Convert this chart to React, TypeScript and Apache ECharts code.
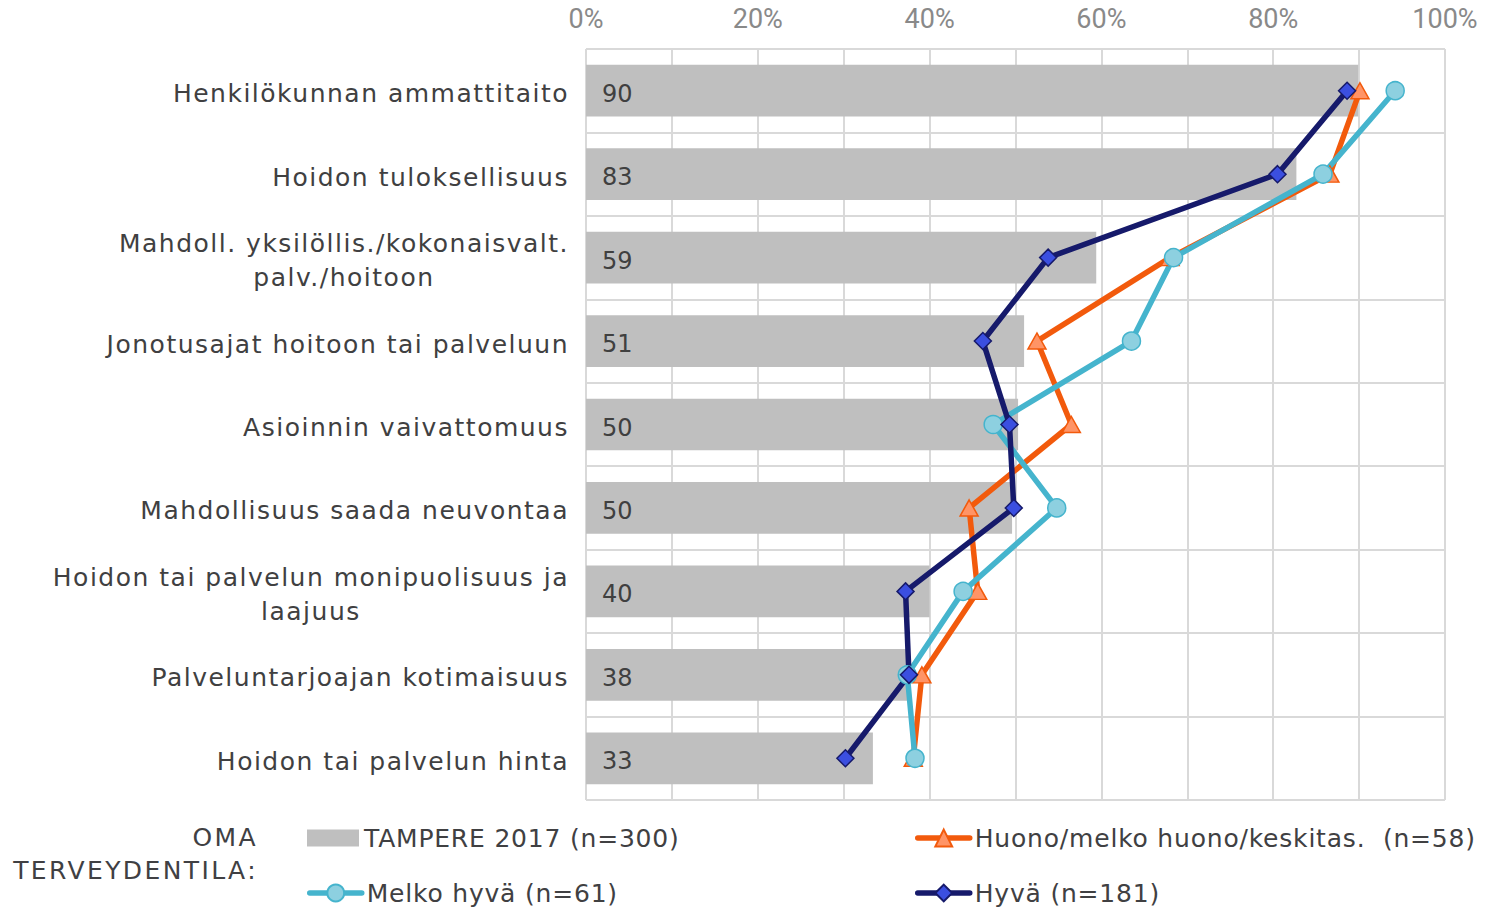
import React, { useEffect, useRef } from 'react';
import * as echarts from 'echarts';

const categories = [
  'Henkilökunnan ammattitaito',
  'Hoidon tuloksellisuus',
  'Mahdoll. yksilöllis./kokonaisvalt.\npalv./hoitoon',
  'Jonotusajat hoitoon tai palveluun',
  'Asioinnin vaivattomuus',
  'Mahdollisuus saada neuvontaa',
  'Hoidon tai palvelun monipuolisuus ja\nlaajuus',
  'Palveluntarjoajan kotimaisuus',
  'Hoidon tai palvelun hinta',
];

const seriesNames = [
  'TAMPERE 2017 (n=300)',
  'Huono/melko huono/keskitas.  (n=58)',
  'Melko hyvä (n=61)',
  'Hyvä (n=181)',
];

const tampere = [89.9, 82.7, 59.4, 51.0, 50.3, 49.6, 40.0, 37.6, 33.4];
const huono = [90.1, 86.6, 68.0, 52.5, 56.5, 44.6, 45.6, 39.1, 38.1];
const melkoHyva = [94.2, 85.8, 68.4, 63.5, 47.4, 54.8, 43.9, 37.4, 38.3];
const hyva = [88.6, 80.5, 53.8, 46.2, 49.3, 49.8, 37.2, 37.6, 30.2];

const xLabelValues = [0, 20, 40, 60, 80, 100];
const legendTitle = 'OMA\nTERVEYDENTILA:';

const CAT_FONT = 25;
const CAT_LS = 1.5;
const FONT = '"DejaVu Sans", Verdana, sans-serif';
const LINE_W = 5.5;

function measureSpaced(text: string, size: number, ls: number): number {
  const ctx = document.createElement('canvas').getContext('2d');
  if (!ctx) return text.length * size * 0.6;
  ctx.font = `${size}px "DejaVu Sans"`;
  return ctx.measureText(text).width + ls * text.length;
}

export default function App() {
  const ref = useRef<HTMLDivElement>(null);

  useEffect(() => {
    if (!ref.current) return;
    const chart = echarts.init(ref.current, null, { renderer: 'svg' });

    const rich: Record<string, any> = {};
    categories.forEach((c, i) => {
      if (c.includes('\n')) {
        const w = Math.max(...c.split('\n').map((l) => measureSpaced(l, CAT_FONT, CAT_LS)));
        rich['c' + i] = {
          width: w,
          align: 'center',
          fontSize: CAT_FONT,
          fontFamily: FONT,
          color: '#404041',
          lineHeight: 34,
        };
      }
    });

    const legendBase = {
      itemWidth: 52,
      itemHeight: 17,
      padding: 0,
      selectedMode: false,
      textStyle: {
        fontSize: 25,
        fontFamily: FONT,
        color: '#404042',
        lineHeight: 28,
        padding: [0, 0, 0, 0],
      },
    };
    const lineLegend = {
      ...legendBase,
      itemHeight: 21,
      lineStyle: { width: 5.5, cap: 'round' },
    };

    const mkLine = (name: string, data: number[], symbol: string, size: any, line: string, fill: string) => ({
      type: 'line',
      name,
      data,
      z: 3,
      showAllSymbol: true,
      symbol,
      symbolSize: size,
      lineStyle: { color: line, width: LINE_W, cap: 'round', join: 'round' },
      itemStyle: { color: fill, borderColor: line, borderWidth: 1.5 },
    });

    chart.setOption({
      animation: false,
      backgroundColor: '#ffffff',
      grid: { left: 586, right: 40, top: 49, bottom: 107, containLabel: false },
      xAxis: {
        type: 'value',
        position: 'top',
        min: 0,
        max: 100,
        interval: 10,
        axisLine: { show: false },
        axisTick: { show: false },
        axisLabel: {
          margin: 17,
          fontSize: 27,
          fontFamily: 'Roboto, sans-serif',
          color: '#898989',
          formatter: (v: number) => (xLabelValues.includes(v) ? v + '%' : ''),
        },
        splitLine: { show: true, lineStyle: { color: '#D9D9D9', width: 2 } },
      },
      yAxis: {
        type: 'category',
        inverse: true,
        data: categories,
        axisLine: { show: false },
        axisTick: { show: false },
        splitLine: { show: true, lineStyle: { color: '#D9D9D9', width: 2 } },
        axisLabel: {
          margin: 17,
          fontSize: CAT_FONT,
          fontFamily: FONT,
          color: '#404041',
          lineHeight: 34,
          padding: [6, 0, 0, 0],
          formatter: (value: string, index: number) => {
            if (!value.includes('\n')) return value;
            return value
              .split('\n')
              .map((l) => `{c${index}|${l}}`)
              .join('\n');
          },
          rich,
        },
      },
      legend: [
        { ...legendBase, icon: 'rect', data: [seriesNames[0]], left: 307, top: 824 },
        { ...lineLegend, data: [seriesNames[1]], left: 915, top: 824 },
        { ...lineLegend, data: [seriesNames[2]], left: 307, top: 879 },
        { ...lineLegend, data: [seriesNames[3]], left: 915, top: 879 },
      ],
      graphic: [
        {
          type: 'text',
          x: 258,
          y: 821,
          style: {
            text: legendTitle,
            fill: '#404043',
            fontSize: 25,
            fontFamily: FONT,
            align: 'right',
            verticalAlign: 'top',
            lineHeight: 33,
          },
        },
      ],
      series: [
        {
          name: seriesNames[0],
          type: 'bar',
          data: tampere,
          barWidth: '62%',
          z: 1,
          itemStyle: { color: '#BFBFBF' },
          label: {
            show: true,
            position: 'insideLeft',
            distance: 16,
            offset: [0, 3],
            fontSize: 24,
            fontFamily: FONT,
            color: '#404040',
            formatter: (p: any) => String(Math.round(p.value)),
          },
        },
        mkLine(seriesNames[1], huono, 'triangle', [18, 16], '#F25A0C', '#FF9466'),
        mkLine(seriesNames[2], melkoHyva, 'circle', 18, '#45B4CD', '#8DD0E0'),
        mkLine(seriesNames[3], hyva, 'diamond', 17, '#161A6B', '#3B4FE0'),
      ],
    });

    return () => chart.dispose();
  }, []);

  return (
    <>
      <style>{`
        #chartroot text[fill="#404041"] { letter-spacing: 1.5px; }
        #chartroot text[fill="#404042"] { letter-spacing: 0.8px; }
        #chartroot text[fill="#404043"] { letter-spacing: 2.4px; }
      `}</style>
      <div
        id="chartroot"
        ref={ref}
        style={{ position: 'absolute', left: 0, top: 0, width: 1485, height: 907 }}
      />
    </>
  );
}
